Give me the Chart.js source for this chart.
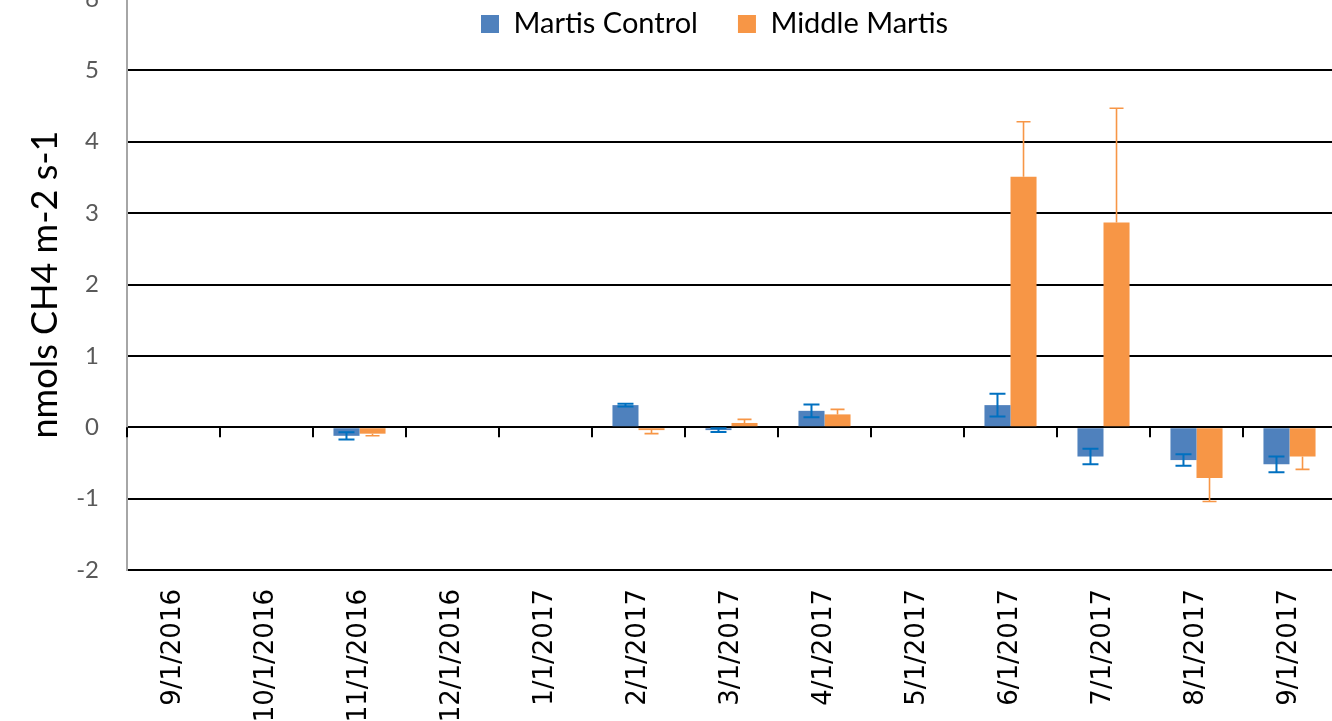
<!DOCTYPE html>
<html><head><meta charset="utf-8">
<script src="https://cdn.jsdelivr.net/npm/chart.js@4/dist/chart.umd.min.js"></script>
<style>
html,body{margin:0;padding:0;overflow:hidden;background:#fff;width:1332px;height:721px;}
#wrap{position:absolute;left:0;top:0;width:1340px;height:900px;}
canvas{display:block;}
</style></head><body>
<div id="wrap"><canvas id="c" width="1340" height="900"></canvas></div>
<script>
const categories = ['9/1/2016','10/1/2016','11/1/2016','12/1/2016','1/1/2017','2/1/2017','3/1/2017','4/1/2017','5/1/2017','6/1/2017','7/1/2017','8/1/2017','9/1/2017'];
const controlValues = [null, null, -0.12, null, null, 0.31, -0.04, 0.23, null, 0.31, -0.41, -0.46, -0.52];
const controlErrors = [null, null, 0.05, null, null, 0.02, 0.025, 0.09, null, 0.16, 0.11, 0.08, 0.11];
const middleValues = [null, null, -0.09, null, null, -0.04, 0.06, 0.18, null, 3.51, 2.87, -0.71, -0.41];
const middleErrors = [null, null, 0.03, null, null, 0.05, 0.05, 0.07, null, 0.77, 1.60, 0.33, 0.18];
const yMin = -2, yMax = 6, yStep = 1;

const errorBarPlugin = {
  id: 'errorBars',
  beforeDatasetsDraw(chart) {
    const x = chart.scales.x, y = chart.scales.y, ctx = chart.ctx;
    const w = x.getPixelForTick(1) - x.getPixelForTick(0);
    const y0 = y.getPixelForValue(0);
    ctx.save();
    ctx.strokeStyle = '#000';
    ctx.lineWidth = 2;
    for (let i = 0; i <= categories.length; i++) {
      const bx = Math.round(x.getPixelForTick(0) - w / 2 + i * w);
      ctx.beginPath();
      ctx.moveTo(bx, y0);
      ctx.lineTo(bx, y0 + 10);
      ctx.stroke();
    }
    ctx.restore();
  },
  afterDatasetsDraw(chart) {
    const ctx = chart.ctx, y = chart.scales.y;
    const cfg = [
      {ds: 0, vals: controlValues, err: controlErrors, color: '#0070c0', width: 2, cap: 16, both: true},
      {ds: 1, vals: middleValues, err: middleErrors, color: '#f79646', width: 1.6, cap: 14, both: false}
    ];
    ctx.save();
    cfg.forEach(c => {
      const meta = chart.getDatasetMeta(c.ds);
      meta.data.forEach((bar, i) => {
        const v = c.vals[i], e = c.err[i];
        if (v === null || e === null) return;
        const bx = bar.x;
        let a, b;
        if (c.both) { a = v - e; b = v + e; }
        else { a = v; b = v + (v >= 0 ? e : -e); }
        const pa = y.getPixelForValue(a), pb = y.getPixelForValue(b);
        ctx.strokeStyle = c.color;
        ctx.lineWidth = c.width;
        ctx.beginPath();
        ctx.moveTo(bx, pa); ctx.lineTo(bx, pb);
        ctx.moveTo(bx - c.cap / 2, pb); ctx.lineTo(bx + c.cap / 2, pb);
        if (c.both) { ctx.moveTo(bx - c.cap / 2, pa); ctx.lineTo(bx + c.cap / 2, pa); }
        ctx.stroke();
      });
    });
    ctx.restore();
  },
  afterLayout(chart) {
    const lg = chart.legend;
    if (!lg) return;
    const h = lg.height;
    const P = lg.options.labels.padding;
    const itemH = Math.max(lg.options.labels.font.size, lg.options.labels.boxHeight);
    lg.top = chart.chartArea.top + 25 - P - itemH / 2;
    lg.bottom = lg.top + h;
    const lw = lg.lineWidths ? lg.lineWidths[0] : 0;
    const startX = (lg.left + P + lg.right - lw) / 2;
    const shift = 481 - startX;
    lg.left += shift; lg.right += shift;
  }
};

const chart = new Chart(document.getElementById('c'), {
  type: 'bar',
  data: {
    labels: categories,
    datasets: [
      {label: 'Martis Control', data: controlValues, backgroundColor: '#4f81bd', borderWidth: 0},
      {label: 'Middle Martis', data: middleValues, backgroundColor: '#f79646', borderWidth: 0}
    ]
  },
  options: {
    responsive: false,
    animation: false,
    devicePixelRatio: 1,
    layout: {padding: {left: 0, right: 4, top: 0, bottom: 0}},
    datasets: {bar: {categoryPercentage: 0.56, barPercentage: 1.0}},
    plugins: {
      tooltip: {enabled: false},
      legend: {
        position: 'top',
        align: 'center',
        labels: {
          boxWidth: 18, boxHeight: 18, padding: 40,
          color: '#000',
          font: {family: 'Lato', size: 29}
        }
      }
    },
    scales: {
      x: {
        type: 'category',
        offset: true,
        grid: {display: false, drawTicks: false},
        border: {display: false},
        ticks: {
          color: '#000', font: {family: 'DejaVu Sans', size: 26},
          minRotation: 90, maxRotation: 90, padding: 19, autoSkip: false
        },
        afterFit(s) { s.height = s.chart.height - s.chart.legend.height - 571; }
      },
      y: {
        min: yMin, max: yMax,
        ticks: {stepSize: yStep, color: '#595959', font: {family: 'Lato', size: 24}, padding: 28},
        grid: {color: '#000', lineWidth: 2, drawTicks: false},
        border: {display: true, color: '#a6a6a6', width: 2},
        title: {display: true, text: 'nmols CH4 m-2 s-1', color: '#000', font: {family: 'Lato', size: 36}, padding: {top: 24, bottom: 0}},
        afterFit(s) { s.width = 127; }
      }
    }
  },
  plugins: [errorBarPlugin]
});
document.getElementById('wrap').style.top = (-(chart.chartArea.top + 1)) + 'px';
</script>
</body></html>
